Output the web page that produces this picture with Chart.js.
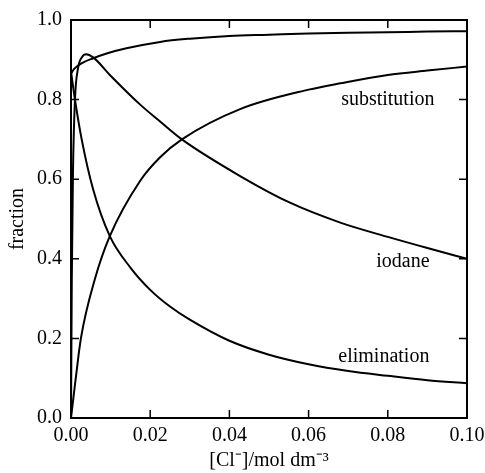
<!DOCTYPE html>
<html>
<head>
<meta charset="utf-8">
<script src="https://cdn.jsdelivr.net/npm/chart.js@4"></script>
<style>
  html, body { margin: 0; padding: 0; background: #fff; }
  #wrap { width: 485px; height: 473px; }
</style>
</head>
<body>
<div id="wrap"><canvas id="graphs"></canvas></div>
<script>
// values
const topX   = [0, 0.0008, 0.003, 0.0056, 0.009, 0.014, 0.0225, 0.03, 0.04, 0.05, 0.06, 0.07, 0.08, 0.09, 0.10];
const topY   = [0.865, 0.877, 0.893, 0.904, 0.916, 0.929, 0.945, 0.953, 0.960, 0.963, 0.966, 0.968, 0.969, 0.971, 0.972];

const iodX   = [0, 0.0002, 0.0005, 0.001, 0.0018, 0.0028, 0.0038, 0.0056, 0.01, 0.0174, 0.0225, 0.028, 0.0427, 0.0553, 0.068, 0.08, 0.09, 0.10];
const iodY   = [0, 0.35, 0.62, 0.80, 0.88, 0.907, 0.914, 0.906, 0.86, 0.788, 0.745, 0.700, 0.608, 0.541, 0.491, 0.455, 0.427, 0.40];

const subX   = [0, 0.0012, 0.0025, 0.006, 0.0098, 0.0174, 0.0225, 0.028, 0.0427, 0.06, 0.068, 0.08, 0.09, 0.10];
const subY   = [0, 0.10, 0.20, 0.348, 0.457, 0.595, 0.655, 0.700, 0.776, 0.825, 0.841, 0.862, 0.873, 0.883];

const elimX  = [0, 0.001, 0.0027, 0.0056, 0.0098, 0.015, 0.02, 0.025, 0.03, 0.04, 0.05, 0.06, 0.07, 0.08, 0.09, 0.10];
const elimY  = [0.87, 0.80, 0.70, 0.574, 0.457, 0.378, 0.322, 0.280, 0.247, 0.194, 0.159, 0.135, 0.118, 0.106, 0.095, 0.087];

const curveLabels = ['substitution', 'iodane', 'elimination'];
const labelX = [0.080, 0.0838, 0.079];
const labelY = [0.80, 0.393, 0.154];

function pts(xs, ys) {
  return xs.map((x, i) => ({ x: x, y: ys[i] }));
}

function line(label, xs, ys) {
  return {
    label: label,
    data: pts(xs, ys),
    borderColor: '#000',
    borderWidth: 2,
    pointRadius: 0,
    fill: false,
    cubicInterpolationMode: 'monotone'
  };
}

// ticks pointing inward on all four sides, box top/right edges, curve names
const framePlugin = {
  id: 'frame',
  afterDraw(chart) {
    const ctx = chart.ctx;
    const a = chart.chartArea;
    const xs = chart.scales.x, ys = chart.scales.y;
    const len = 8;
    ctx.save();
    ctx.strokeStyle = '#000';
    ctx.lineWidth = 2;
    ctx.beginPath();
    ctx.moveTo(a.left, a.top); ctx.lineTo(a.right, a.top); ctx.lineTo(a.right, a.bottom);
    ctx.stroke();
    ctx.lineWidth = 1.5;
    ctx.beginPath();
    xs.ticks.forEach(t => {
      const p = xs.getPixelForValue(t.value);
      ctx.moveTo(p, a.bottom); ctx.lineTo(p, a.bottom - len);
      ctx.moveTo(p, a.top); ctx.lineTo(p, a.top + len);
    });
    ys.ticks.forEach(t => {
      const p = ys.getPixelForValue(t.value);
      ctx.moveTo(a.left, p); ctx.lineTo(a.left + len, p);
      ctx.moveTo(a.right, p); ctx.lineTo(a.right - len, p);
    });
    ctx.stroke();
    ctx.fillStyle = '#000';
    ctx.font = '20px "Liberation Serif"';
    ctx.textAlign = 'center';
    ctx.textBaseline = 'middle';
    curveLabels.forEach((s, i) => {
      ctx.fillText(s, xs.getPixelForValue(labelX[i]), ys.getPixelForValue(labelY[i]));
    });
    ctx.restore();
  }
};

Chart.defaults.font.family = '"Liberation Serif"';
Chart.defaults.font.size = 20;
Chart.defaults.color = '#000';

let config = {
  type: 'line',
  data: {
    datasets: [
      line('total', topX, topY),
      line('iodane', iodX, iodY),
      line('substitution', subX, subY),
      line('elimination', elimX, elimY)
    ]
  },
  options: {
    responsive: true,
    maintainAspectRatio: false,
    animation: false,
    layout: { padding: { top: 20, right: 18, left: 0, bottom: 0 } },
    plugins: {
      legend: { display: false },
      tooltip: { enabled: false }
    },
    scales: {
      x: {
        type: 'linear',
        min: 0,
        max: 0.10,
        afterFit(scale) {
          scale.height = 55;
          scale.paddingLeft = 0;
          scale.paddingRight = 0;
        },
        ticks: {
          stepSize: 0.02,
          padding: 6,
          callback: v => v.toFixed(2)
        },
        grid: { display: false, drawTicks: false },
        border: { display: true, color: '#000', width: 2 },
        title: {
          display: true,
          text: '[Cl⁻]/mol dm⁻³',
          padding: { top: 0, bottom: 0 }
        }
      },
      y: {
        min: 0,
        max: 1.0,
        afterFit(scale) {
          scale.width = 71;
          scale.paddingTop = 0;
        },
        ticks: {
          stepSize: 0.2,
          padding: 9,
          callback: v => v.toFixed(1)
        },
        grid: { display: false, drawTicks: false },
        border: { display: true, color: '#000', width: 2 },
        title: {
          display: true,
          text: 'fraction',
          padding: { top: 6, bottom: 0 }
        }
      }
    }
  },
  plugins: [framePlugin]
};

window.onload = function() {
  let ctx = document.querySelector('#graphs').getContext('2d');
  window.myChart = new Chart(ctx, config);
};
</script>
</body>
</html>
